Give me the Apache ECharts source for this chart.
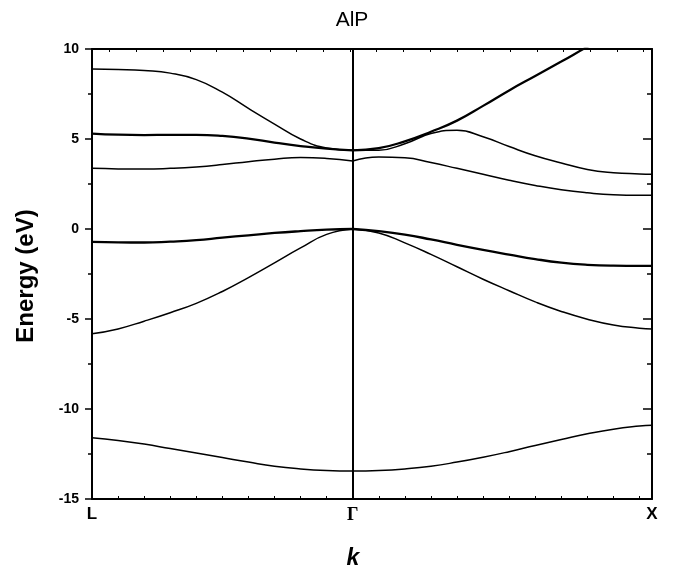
<!DOCTYPE html>
<html>
<head>
<meta charset="utf-8">
<title>AlP band structure</title>
<script src="https://cdn.jsdelivr.net/npm/echarts@6/dist/echarts.min.js"></script>
<style>
  html, body { margin: 0; padding: 0; background: #ffffff; }
  #chart { width: 675px; height: 577px; }
</style>
</head>
<body>
<div id="chart"></div>
<script>
// Positions along the k-path (L at 0, Γ at 10, X at the end)
const kPos = [0, 1, 2, 3, 4, 5, 6, 7, 8, 9, 10, 11, 12, 13, 14, 15, 16, 17, 18, 19, 20, 21, 21.48];

// High-symmetry points and their labels
const kLabelPos = [0, 10, 21.48];
const kLabels = ['L', 'Γ', 'X'];

// Energy tick values (eV)
const energyTicks = [-15, -10, -5, 0, 5, 10];

// Band energies (eV) sampled at kPos
const bandS = [-11.60, -11.75, -11.95, -12.20, -12.45, -12.70, -12.95, -13.18, -13.33, -13.42, -13.45,
               -13.42, -13.33, -13.18, -12.95, -12.68, -12.37, -12.03, -11.70, -11.38, -11.12, -10.95, -10.90];
const bandLight = [-5.82, -5.55, -5.12, -4.65, -4.13, -3.47, -2.70, -1.88, -1.05, -0.30, 0.00,
                   -0.22, -0.77, -1.41, -2.10, -2.79, -3.43, -4.05, -4.58, -5.01, -5.33, -5.51, -5.56];
const bandHeavy = [-0.71, -0.74, -0.75, -0.70, -0.62, -0.48, -0.35, -0.22, -0.12, -0.04, 0.00,
                   -0.12, -0.31, -0.58, -0.88, -1.16, -1.42, -1.67, -1.87, -1.99, -2.04, -2.05, -2.05];
const bandC1 = [3.37, 3.34, 3.33, 3.37, 3.45, 3.58, 3.74, 3.88, 3.97, 3.92, 3.78,
                4.00, 3.96, 3.69, 3.37, 3.04, 2.71, 2.42, 2.18, 2.01, 1.90, 1.87, 1.87];
const bandC2 = [5.30, 5.24, 5.22, 5.23, 5.23, 5.17, 5.02, 4.80, 4.61, 4.46, 4.37,
                4.49, 4.87, 5.40, 6.02, 6.84, 7.70, 8.50, 9.30, 10.12, 10.90, 11.60, 11.90];
const bandC3 = [8.89, 8.86, 8.80, 8.66, 8.30, 7.60, 6.70, 5.83, 5.00, 4.50, 4.37,
                4.38, 4.74, 5.30, 5.48, 5.12, 4.58, 4.07, 3.67, 3.31, 3.13, 3.06, 3.04];

// Degenerate pairs are drawn with a heavier stroke
const bands = [
  { name: 'S', values: bandS, width: 1.5 },
  { name: 'Light', values: bandLight, width: 1.5 },
  { name: 'Heavy', values: bandHeavy, width: 2.3 },
  { name: 'C1', values: bandC1, width: 1.5 },
  { name: 'C2', values: bandC2, width: 2.3 },
  { name: 'C3', values: bandC3, width: 1.5 }
];

const gammaIdx = kPos.indexOf(kLabelPos[1]);

// Each band is split at Γ so the cusp there stays sharp
const series = [];
bands.forEach(function (b) {
  const pts = kPos.map(function (k, i) { return [k, b.values[i]]; });
  [pts.slice(0, gammaIdx + 1), pts.slice(gammaIdx)].forEach(function (seg) {
    series.push({
      type: 'line',
      name: b.name,
      data: seg,
      smooth: 0.5,
      symbol: 'none',
      clip: true,
      lineStyle: { color: '#000', width: b.width },
      silent: true
    });
  });
});

// Vertical line through Γ
series.push({
  type: 'line',
  data: [],
  silent: true,
  markLine: {
    symbol: 'none',
    silent: true,
    label: { show: false },
    lineStyle: { color: '#000', width: 2, type: 'solid' },
    data: [{ xAxis: kLabelPos[1] }]
  }
});

const chart = echarts.init(document.getElementById('chart'), null, { renderer: 'canvas' });

const axisLineStyle = { color: '#000', width: 2 };
const bottomTicks = kPos.filter(function (k) { return Number.isInteger(k); });
const topTicks = Array.from({ length: 21 }, function (_, i) { return i; });

chart.setOption({
  animation: false,
  backgroundColor: '#fff',
  grid: { left: 92, right: 23, top: 49, bottom: 78, containLabel: false },
  xAxis: [
    {
      type: 'value',
      position: 'bottom',
      min: kLabelPos[0],
      max: kLabelPos[2],
      axisLine: { show: true, onZero: false, lineStyle: axisLineStyle },
      axisTick: { show: true, inside: true, length: 3, customValues: bottomTicks, lineStyle: { color: '#000', width: 1 } },
      splitLine: { show: false },
      axisLabel: {
        show: true,
        customValues: kLabelPos,
        margin: 7,
        color: '#000',
        fontFamily: 'Arial, "Liberation Sans", sans-serif',
        fontWeight: 'bold',
        fontSize: 17,
        formatter: function (v) {
          const i = kLabelPos.indexOf(v);
          const t = i >= 0 ? kLabels[i] : '';
          return t === 'Γ' ? '{g|' + t + '}' : t;
        },
        rich: {
          g: { fontFamily: '"Liberation Serif", "DejaVu Serif", serif', fontWeight: 'bold', fontSize: 18, color: '#000' }
        }
      }
    },
    {
      type: 'value',
      position: 'top',
      min: -0.664,
      max: 20.311,
      axisLine: { show: true, onZero: false, lineStyle: axisLineStyle },
      axisTick: { show: true, inside: true, length: 3, customValues: topTicks, lineStyle: { color: '#000', width: 1 } },
      axisLabel: { show: false },
      splitLine: { show: false }
    }
  ],
  yAxis: [
    {
      type: 'value',
      position: 'left',
      min: energyTicks[0],
      max: energyTicks[energyTicks.length - 1],
      interval: 5,
      axisLine: { show: true, onZero: false, lineStyle: axisLineStyle },
      axisTick: { show: true, inside: false, length: 7, lineStyle: { color: '#000', width: 1.5 } },
      minorTick: { show: true, splitNumber: 2, length: 4, lineStyle: { color: '#000', width: 1.5 } },
      splitLine: { show: false },
      axisLabel: {
        margin: 13,
        color: '#000',
        fontFamily: 'Arial, "Liberation Sans", sans-serif',
        fontWeight: 'bold',
        fontSize: 14
      }
    },
    {
      type: 'value',
      position: 'right',
      min: energyTicks[0],
      max: energyTicks[energyTicks.length - 1],
      interval: 5,
      axisLine: { show: true, onZero: false, lineStyle: axisLineStyle },
      axisTick: { show: true, inside: true, length: 9, lineStyle: { color: '#000', width: 1.5 } },
      minorTick: { show: true, splitNumber: 2, length: 5, lineStyle: { color: '#000', width: 1.5 } },
      splitLine: { show: false },
      axisLabel: { show: false }
    }
  ],
  graphic: [
    {
      type: 'text',
      x: 352, y: 20,
      style: {
        text: 'AlP',
        font: '21px Arial, "Liberation Sans", sans-serif',
        fill: '#000',
        align: 'center',
        verticalAlign: 'middle'
      }
    },
    {
      type: 'text',
      x: 26, y: 276,
      rotation: Math.PI / 2,
      style: {
        text: 'Energy (eV)',
        font: 'bold 24px Arial, "Liberation Sans", sans-serif',
        fill: '#000',
        align: 'center',
        verticalAlign: 'middle'
      }
    },
    {
      type: 'text',
      x: 353, y: 559,
      style: {
        text: 'k',
        font: 'italic bold 23px Arial, "Liberation Sans", sans-serif',
        fill: '#000',
        align: 'center',
        verticalAlign: 'middle'
      }
    }
  ],
  series: series
});
</script>
</body>
</html>
